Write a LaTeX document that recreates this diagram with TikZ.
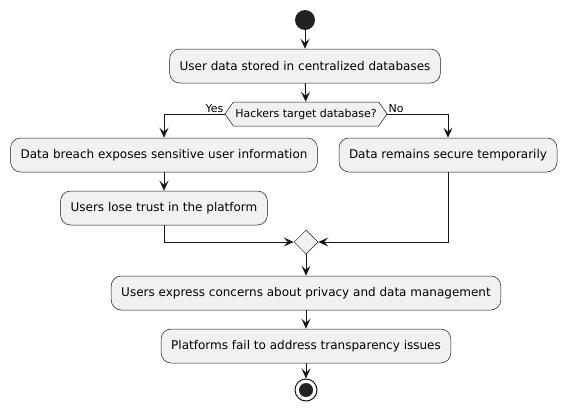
\documentclass[tikz,border=0pt]{standalone}
\usepackage{fontspec}
\setmainfont{DejaVu Sans}
\usetikzlibrary{arrows.meta,shapes.symbols,shapes.geometric}
\definecolor{actfill}{HTML}{F1F1F1}
\definecolor{ink}{HTML}{181818}
\definecolor{dot}{HTML}{222222}

\begin{document}
\begin{tikzpicture}[
			x = 1pt, y = -1pt,
			every node/.style = {font=\fontsize{12}{14}\selectfont},
			act/.style = {draw=ink, fill=actfill, rounded corners=10pt, minimum height=34pt, inner xsep=10pt, line width=.5pt},
			flow/.style = {-{Stealth[length=10pt,width=9pt,inset=4pt]}, line width=1pt, draw=ink}
		]

			\useasboundingbox (0,0) rectangle (567,415);

			\node[circle, fill=dot, minimum size=20pt, inner sep=0] (start) at (305,20) {};
			\node[act] (stored) at (305,66) {User data stored in centralized databases};
			\node[signal, signal to=east and west, signal pointer angle=110, draw=ink, fill=actfill, line width=.5pt, minimum height=24pt, inner xsep=2pt, inner ysep=0pt, font=\fontsize{11}{13}\selectfont] (hack) at (306,114) {Hackers target database?};

			\node[act] (breach) at (164,155) {Data breach exposes sensitive user information};
			\node[act] (secure) at (448,155) {Data remains secure temporarily};
			\node[act] (trust) at (164,208) {Users lose trust in the platform};

			\node[diamond, draw=ink, fill=actfill, line width=.5pt, minimum size=24pt, inner sep=0] (merge) at (306,242) {};
			\node[act] (concerns) at (306,293) {Users express concerns about privacy and data management};
			\node[act] (fail) at (306,346) {Platforms fail to address transparency issues};

			\node[circle, draw=ink, fill=white, line width=1pt, minimum size=22pt, inner sep=0] (stop) at (306,390) {};
			\node[circle, fill=dot, minimum size=14pt, inner sep=0] (stopdot) at (stop) {};

			% branch labels
			\node[anchor=south east, inner sep=1pt, font=\fontsize{11}{13}\selectfont] (yes) at (hack.west) {Yes};
			\node[anchor=south west, inner sep=1pt, font=\fontsize{11}{13}\selectfont] (no) at (hack.east) {No};

			\draw[flow] (start) -- (stored);
			\draw[flow] (stored) -- (hack);
			\draw[flow] (hack.west) -| (breach.north);
			\draw[flow] (hack.east) -| (secure.north);
			\draw[flow] (breach) -- (trust);
			\draw[flow] (trust.south) |- (merge.west);
			\draw[flow] (secure.south) |- (merge.east);
			\draw[flow] (merge) -- (concerns);
			\draw[flow] (concerns) -- (fail);
			\draw[flow] (fail) -- (stop);

		\end{tikzpicture}
\end{document}
